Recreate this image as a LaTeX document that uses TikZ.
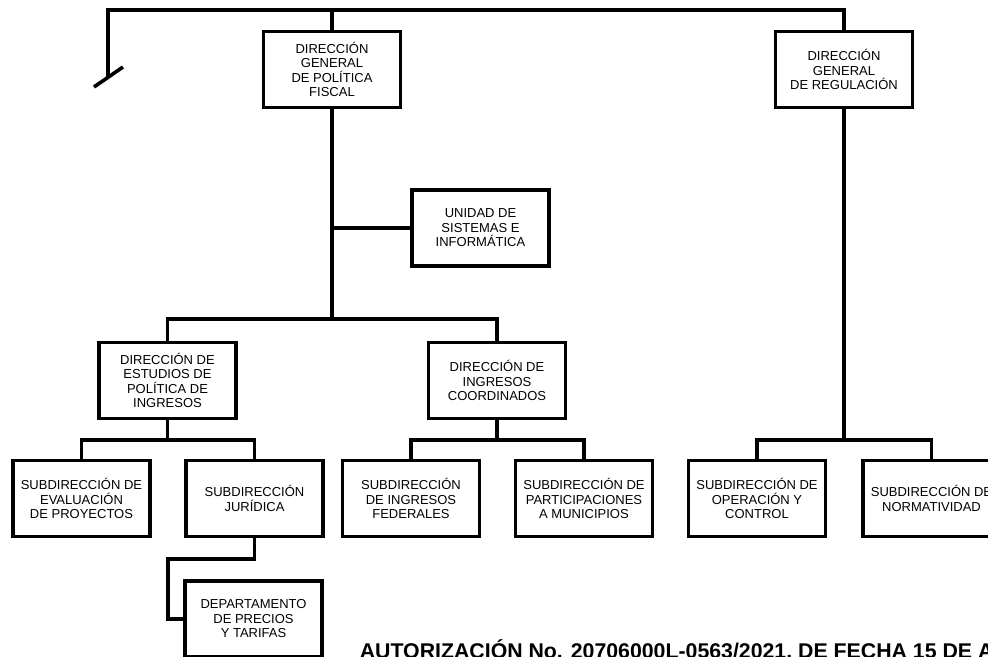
\documentclass[tikz,border=0pt]{standalone}
\usepackage{fontspec}
\setmainfont{Liberation Sans}

\begin{document}
\begin{tikzpicture}[x=1pt, y=-1pt, line width=3.6pt,
  box/.style  = { draw, align=center, inner sep=0pt,
                  minimum width=137pt, minimum height=76pt,
                  font=\fontsize{13}{14.5}\selectfont },
  note/.style = { font=\fontsize{21.3}{25}\selectfont\bfseries }]
  \useasboundingbox (0,0) rectangle (988,656);

  \node [box] (dgpf) at (332,69.5)  {DIRECCIÓN\\GENERAL\\DE POLÍTICA\\FISCAL};
  \node [box] (dgr)  at (844,69.5)  {DIRECCIÓN\\GENERAL\\DE REGULACIÓN};
  \node [box] (usi)  at (480.5,228) {UNIDAD DE\\SISTEMAS E\\INFORMÁTICA};
  \node [box] (depi) at (167.5,380.5) {DIRECCIÓN DE\\ESTUDIOS DE\\POLÍTICA DE\\INGRESOS};
  \node [box] (dic)  at (497,380.5) {DIRECCIÓN DE\\INGRESOS\\COORDINADOS};
  \node [box] (sep)  at (81.5,498.5)  {SUBDIRECCIÓN DE\\EVALUACIÓN\\DE PROYECTOS};
  \node [box] (sj)   at (254.5,498.5) {SUBDIRECCIÓN\\JURÍDICA};
  \node [box] (sif)  at (411,498.5)   {SUBDIRECCIÓN\\DE INGRESOS\\FEDERALES};
  \node [box] (spm)  at (584,498.5)   {SUBDIRECCIÓN DE\\PARTICIPACIONES\\A MUNICIPIOS};
  \node [box] (soc)  at (757,498.5)   {SUBDIRECCIÓN DE\\OPERACIÓN Y\\CONTROL};
  \node [box] (sn)   at (931.5,498.5) {SUBDIRECCIÓN DE\\NORMATIVIDAD};
  \node [box] (dpt)  at (253.5,619)   {DEPARTAMENTO\\DE PRECIOS\\Y TARIFAS};

  \coordinate (bar)     at (108,10);
  \coordinate (cut)     at (108,77);
  \coordinate (slash-a) at (94,87);
  \coordinate (slash-b) at (123,67);
  \coordinate (elbow)   at (168,559);

  \draw (slash-a) -- (slash-b);
  \draw (cut) -- (bar) -| (dgr.north);
  \draw (dgpf.north) -- (dgpf.north |- bar);
  \draw (depi.north) -- ++(0,-22) coordinate (mid) -| (dic.north);
  \draw (dgpf.south) -- (dgpf.south |- mid);
  \draw (usi.west) -- (usi.west -| dgpf.south);
  \foreach \p/\a/\b in {depi/sep/sj, dic/sif/spm, dgr/soc/sn} {
    \draw (\a.north) -- ++(0,-19) coordinate (\p-bar) -| (\b.north);
    \draw (\p.south) -- (\p.south |- \p-bar);
  }
  \draw (sj.south) |- (elbow) |- (dpt.west);

  \node [note, anchor=base west, inner sep=0pt] (auth) at (358,658)
    {AUTORIZACIÓN No. 20706000L-0563/2021, DE FECHA 15 DE A};
\end{tikzpicture}
\end{document}
